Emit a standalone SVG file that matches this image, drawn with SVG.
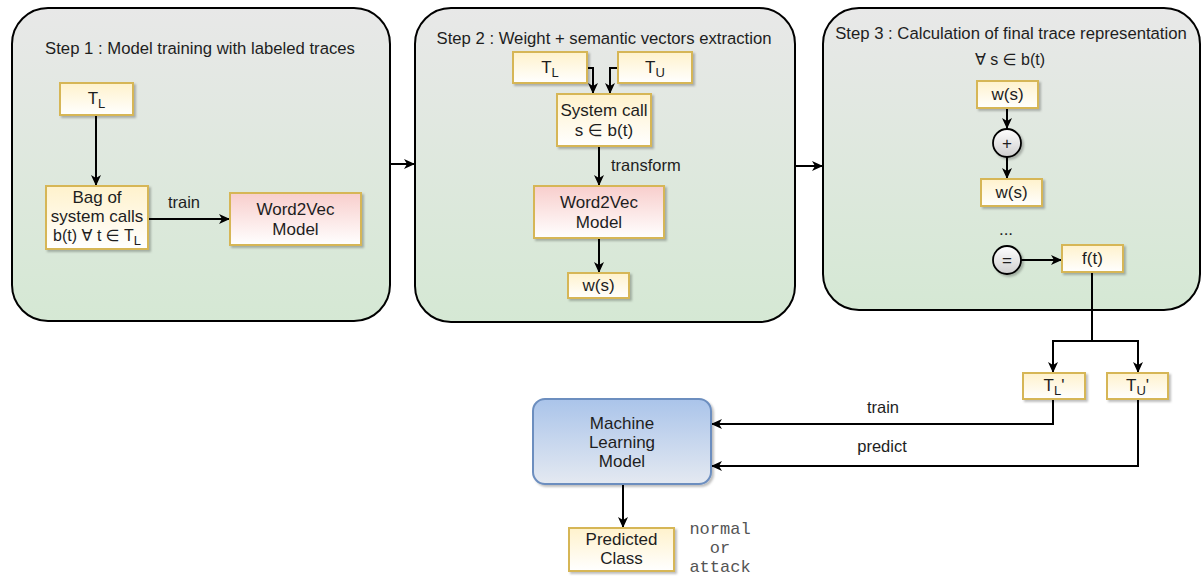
<svg xmlns="http://www.w3.org/2000/svg" width="1203" height="577" viewBox="0 0 1203 577">
<style>
text{font-family:"Liberation Sans","DejaVu Sans",Arial,sans-serif;font-size:17px;fill:#1e1e1e;text-anchor:middle}
.title{font-size:16.7px}
.lbl{font-size:16.5px}
.mono{font-family:"Liberation Mono","DejaVu Sans Mono",monospace;font-size:17px;fill:#555}
.panel{fill:url(#gPanel);stroke:#000;stroke-width:2}
.yb{fill:url(#gYellow);stroke:#d6b656;stroke-width:2;filter:url(#sh)}
.pb{fill:url(#gPink);stroke:#d6b656;stroke-width:2;filter:url(#sh)}
.bb{fill:url(#gBlue);stroke:#6c8ebf;stroke-width:2;filter:url(#sh)}
.circ{fill:url(#gCirc);stroke:#000;stroke-width:1.8;filter:url(#sh)}
.edge{fill:none;stroke:#000;stroke-width:2;marker-end:url(#ah)}
.line{fill:none;stroke:#000;stroke-width:2}
</style>
<defs>
<linearGradient id="gPanel" x1="0" y1="0" x2="0" y2="1"><stop offset="0" stop-color="#e8e8e8"/><stop offset="1" stop-color="#d5e8d4"/></linearGradient>
<linearGradient id="gYellow" x1="0" y1="0" x2="0" y2="1"><stop offset="0" stop-color="#fff2cc"/><stop offset="1" stop-color="#ffffff"/></linearGradient>
<linearGradient id="gPink" x1="0" y1="0" x2="0" y2="1"><stop offset="0" stop-color="#f8cecc"/><stop offset="1" stop-color="#ffffff"/></linearGradient>
<linearGradient id="gBlue" x1="0" y1="0" x2="0" y2="1"><stop offset="0" stop-color="#aac4ea"/><stop offset="1" stop-color="#e4e9f1"/></linearGradient>
<linearGradient id="gCirc" x1="0" y1="0" x2="0" y2="1"><stop offset="0" stop-color="#ffffff"/><stop offset="1" stop-color="#cfcfcf"/></linearGradient>
<filter id="sh" x="-20%" y="-20%" width="140%" height="140%"><feDropShadow dx="2" dy="2" stdDeviation="1" flood-color="#000" flood-opacity="0.25"/></filter>
<marker id="ah" viewBox="0 0 11 10" refX="11" refY="5" markerWidth="11" markerHeight="10" markerUnits="userSpaceOnUse" orient="auto"><path d="M0,0 L11,5 L0,10 L3,5 z" fill="#000"/></marker>
</defs>

<g id="panel1">
<rect class="panel" x="12" y="8" width="378" height="313" rx="36"/>
<text class="title" x="200" y="54">Step 1 : Model training with labeled traces</text>
</g>
<g id="panel2">
<rect class="panel" x="415" y="8" width="380" height="314" rx="36"/>
<text class="title" x="604" y="44">Step 2 : Weight + semantic vectors extraction</text>
</g>
<g id="panel3">
<rect class="panel" x="823" y="8" width="377" height="302" rx="36"/>
<text class="title" x="1011" y="39">Step 3 : Calculation of final trace representation</text>
<text x="1010" y="65" style="font-size:16px">∀ s ∈ b(t)</text>
<text x="1006" y="235">...</text>
</g>

<g id="connectors">
<path class="edge" d="M390,164 L415,164"/>
<path class="edge" d="M795,166 L823,166"/>
<path class="edge" d="M96,115 L96,186"/>
<path class="edge" d="M148,219 L230,219"/>
<text class="lbl" x="184" y="208">train</text>
<path class="edge" d="M587,68 L593,68 L593,94"/>
<path class="edge" d="M618,68 L610,68 L610,94"/>
<path class="edge" d="M599,146 L599,186"/>
<text class="lbl" x="611" y="171" style="text-anchor:start">transform</text>
<path class="edge" d="M599,238 L599,273"/>
<path class="edge" d="M1007,108 L1007,129"/>
<path class="edge" d="M1007,157 L1007,179"/>
<path class="edge" d="M1021,260 L1062,260"/>
<path class="line" d="M1092,272 L1092,341"/>
<path class="edge" d="M1092,341 L1053,341 L1053,373"/>
<path class="edge" d="M1092,341 L1138,341 L1138,373"/>
<path class="edge" d="M1053,399 L1053,424 L711,424"/>
<text class="lbl" x="883" y="413">train</text>
<path class="edge" d="M1138,399 L1138,466 L711,466"/>
<text class="lbl" x="882" y="452">predict</text>
<path class="edge" d="M623,484 L623,528"/>
</g>

<g id="n_tl1"><rect class="yb" x="60" y="83" width="73" height="32"/><text x="96.5" y="104">T<tspan font-size="13" dy="4">L</tspan></text></g>
<g id="n_bag"><rect class="yb" x="46" y="186" width="102" height="63"/>
<text x="97" y="203">Bag of</text><text x="97" y="222">system calls</text><text x="97" y="241" style="font-size:16px">b(t) ∀ t ∈ T<tspan font-size="13" dy="4">L</tspan></text></g>
<g id="n_w2v1"><rect class="pb" x="230" y="193" width="131" height="52"/><text x="295.5" y="215">Word2Vec</text><text x="295.5" y="235">Model</text></g>

<g id="n_tl2"><rect class="yb" x="513" y="52" width="74" height="31"/><text x="550" y="73">T<tspan font-size="13" dy="4">L</tspan></text></g>
<g id="n_tu2"><rect class="yb" x="618" y="52" width="74" height="31"/><text x="655" y="73">T<tspan font-size="13" dy="4">U</tspan></text></g>
<g id="n_syscall"><rect class="yb" x="557" y="94" width="94" height="52"/><text x="604" y="116">System call</text><text x="604" y="136">s ∈ b(t)</text></g>
<g id="n_w2v2"><rect class="pb" x="534" y="186" width="130" height="52"/><text x="599" y="208">Word2Vec</text><text x="599" y="228">Model</text></g>
<g id="n_ws1"><rect class="yb" x="568" y="273" width="61" height="25"/><text x="598.5" y="291">w(s)</text></g>

<g id="n_ws3a"><rect class="yb" x="977" y="81" width="61" height="27"/><text x="1007.5" y="100">w(s)</text></g>
<g id="n_plus"><circle class="circ" cx="1007" cy="143" r="14"/><text x="1007" y="149">+</text></g>
<g id="n_ws3b"><rect class="yb" x="981" y="179" width="61" height="27"/><text x="1011.5" y="198">w(s)</text></g>
<g id="n_eq"><circle class="circ" cx="1007" cy="260" r="14"/><text x="1007" y="266">=</text></g>
<g id="n_ft"><rect class="yb" x="1062" y="245" width="61" height="27"/><text x="1092.5" y="264">f(t)</text></g>

<g id="n_tlp"><rect class="yb" x="1023" y="373" width="62" height="26"/><text x="1054" y="391">T<tspan font-size="13" dy="4">L</tspan><tspan dy="-4">'</tspan></text></g>
<g id="n_tup"><rect class="yb" x="1107" y="373" width="61" height="26"/><text x="1137.5" y="391">T<tspan font-size="13" dy="4">U</tspan><tspan dy="-4">'</tspan></text></g>
<g id="n_ml"><rect class="bb" x="533" y="399" width="178" height="85" rx="12"/>
<text x="622" y="429">Machine</text><text x="622" y="448">Learning</text><text x="622" y="467">Model</text></g>
<g id="n_pred"><rect class="yb" x="569" y="528" width="105" height="43"/><text x="621.5" y="545">Predicted</text><text x="621.5" y="564">Class</text></g>
<g id="n_out"><text class="mono" x="720" y="534">normal</text><text class="mono" x="720" y="553">or</text><text class="mono" x="720" y="572">attack</text></g>
</svg>
